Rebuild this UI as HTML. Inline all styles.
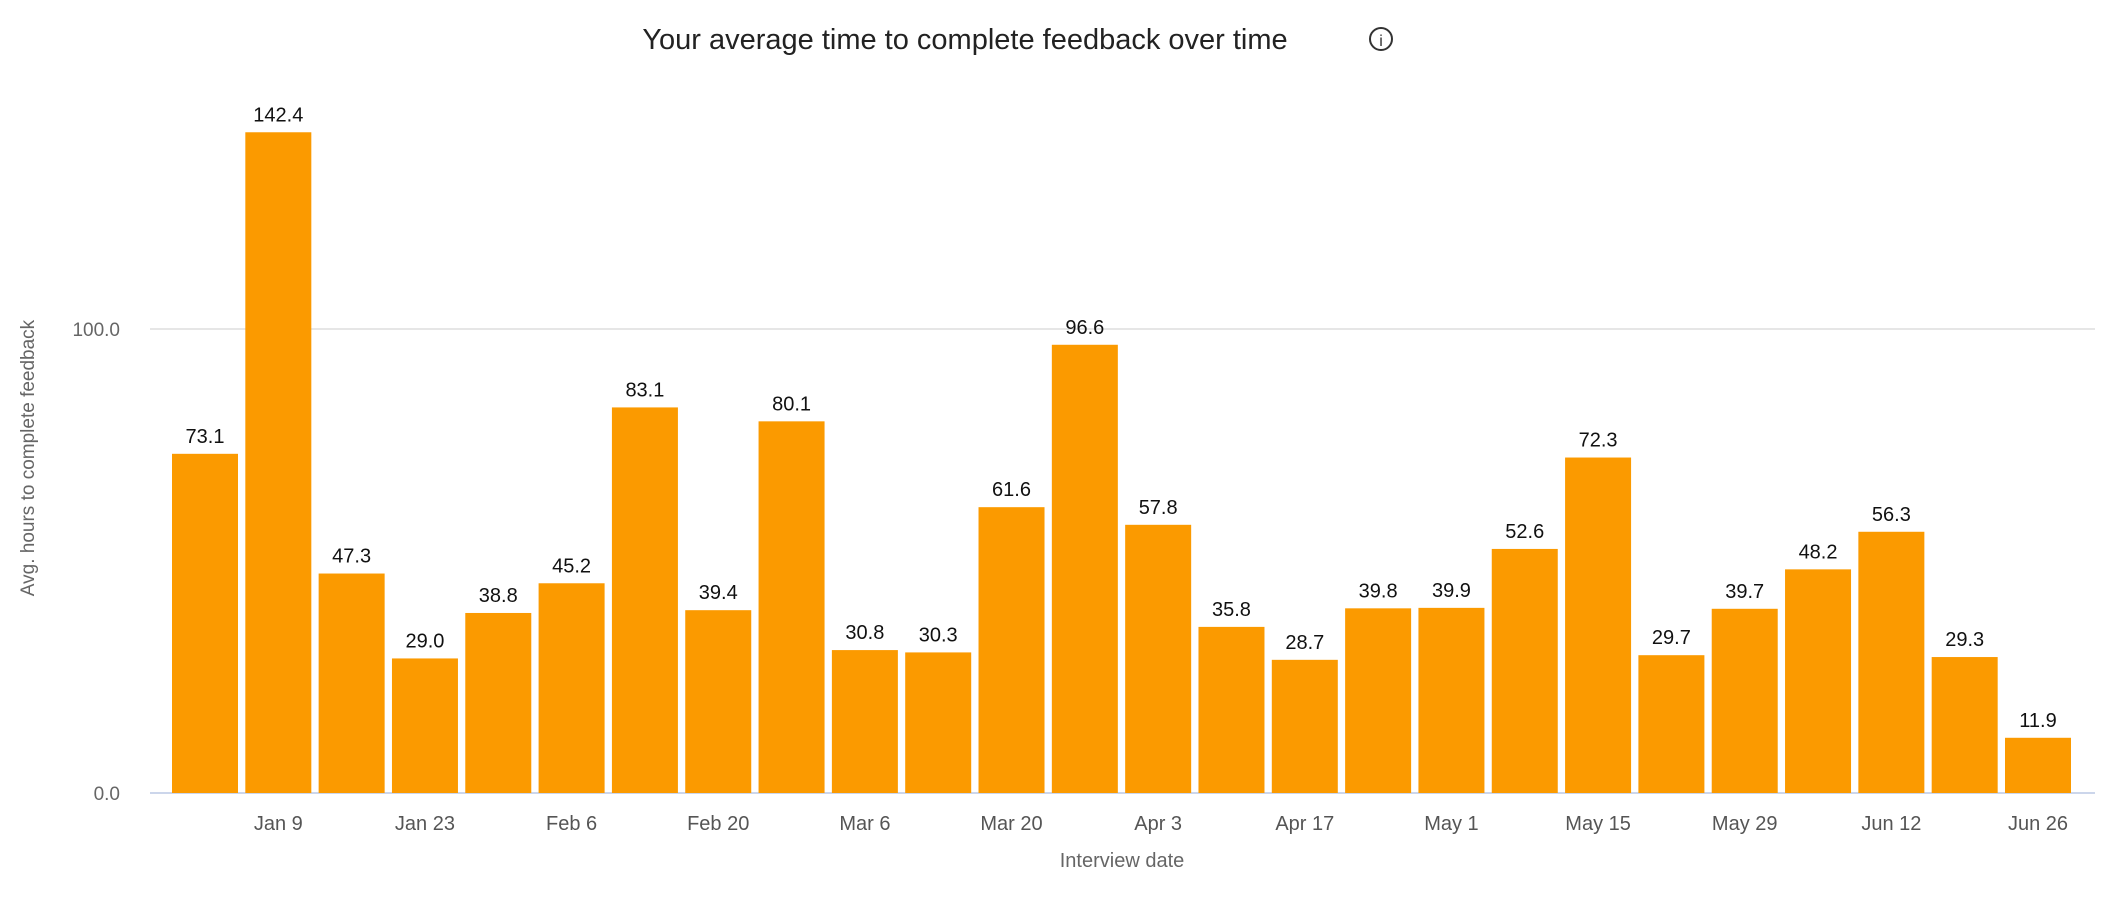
<!DOCTYPE html>
<html><head><meta charset="utf-8"><style>
html,body{margin:0;padding:0;background:#fff;}
body{width:2122px;height:900px;overflow:hidden;font-family:"Liberation Sans",sans-serif;}
</style></head><body>
<svg id="chart" width="2122" height="900" xmlns="http://www.w3.org/2000/svg">
<text x="965" y="49" text-anchor="middle" font-size="29" fill="#222">Your average time to complete feedback over time</text>
<g>
<circle cx="1381" cy="39" r="11" fill="none" stroke="#333" stroke-width="2"/>
<text x="1381" y="46" text-anchor="middle" font-size="16" fill="#333">i</text>
</g>
<text transform="translate(34,458) rotate(-90)" text-anchor="middle" font-size="19" fill="#666">Avg. hours to complete feedback</text>
<text x="1122" y="867" text-anchor="middle" font-size="20" fill="#666">Interview date</text>
<g id="grid"></g><g id="bars"></g><g id="labels"></g><g id="xt"></g>
</svg>
<script>
const categories=["Jan 2","Jan 9","Jan 16","Jan 23","Jan 30","Feb 6","Feb 13","Feb 20","Feb 27","Mar 6","Mar 13","Mar 20","Mar 27","Apr 3","Apr 10","Apr 17","Apr 24","May 1","May 8","May 15","May 22","May 29","Jun 5","Jun 12","Jun 19","Jun 26"];
const values=[73.1,142.4,47.3,29.0,38.8,45.2,83.1,39.4,80.1,30.8,30.3,61.6,96.6,57.8,35.8,28.7,39.8,39.9,52.6,72.3,29.7,39.7,48.2,56.3,29.3,11.9];
const yTicks=[0,100];
const yTickLabels=["0.0","100.0"];
const NS="http://www.w3.org/2000/svg";
const x0=172, pitch=73.32, bw=66, yZero=793, yScale=4.64;
const xPos=i=>x0+i*pitch;
const yPos=v=>yZero-v*yScale;
function mk(tag,attrs,parent){const e=document.createElementNS(NS,tag);for(const k in attrs)e.setAttribute(k,attrs[k]);parent.appendChild(e);return e;}
const grid=document.getElementById('grid'),bars=document.getElementById('bars'),labels=document.getElementById('labels'),xt=document.getElementById('xt');
yTicks.forEach((t,i)=>{
 const l=mk('line',{x1:150,x2:2095,y1:yPos(t),y2:yPos(t),stroke:t===0?'#ccd6eb':'#e6e6e6','stroke-width':2},grid);
 
 
 const tx=mk('text',{x:120,y:yPos(t)+7,'text-anchor':'end','font-size':19,fill:'#666'},grid);
 tx.textContent=yTickLabels[i];
 
 
});
values.forEach((v,i)=>{
 const r=mk('rect',{x:xPos(i),y:yPos(v),width:bw,height:v*yScale,fill:'#fb9a00'},bars);
 
 
 const t=mk('text',{x:xPos(i)+bw/2,y:yPos(v)-11,'text-anchor':'middle','font-size':20,fill:'#111'},labels);
 t.textContent=v.toFixed(1);
 
 
 if(i%2===1){
  const c=mk('text',{x:xPos(i)+bw/2,y:830,'text-anchor':'middle','font-size':20,fill:'#555'},xt);
  c.textContent=categories[i];
  
  
 }
});
</script>
</body></html>
